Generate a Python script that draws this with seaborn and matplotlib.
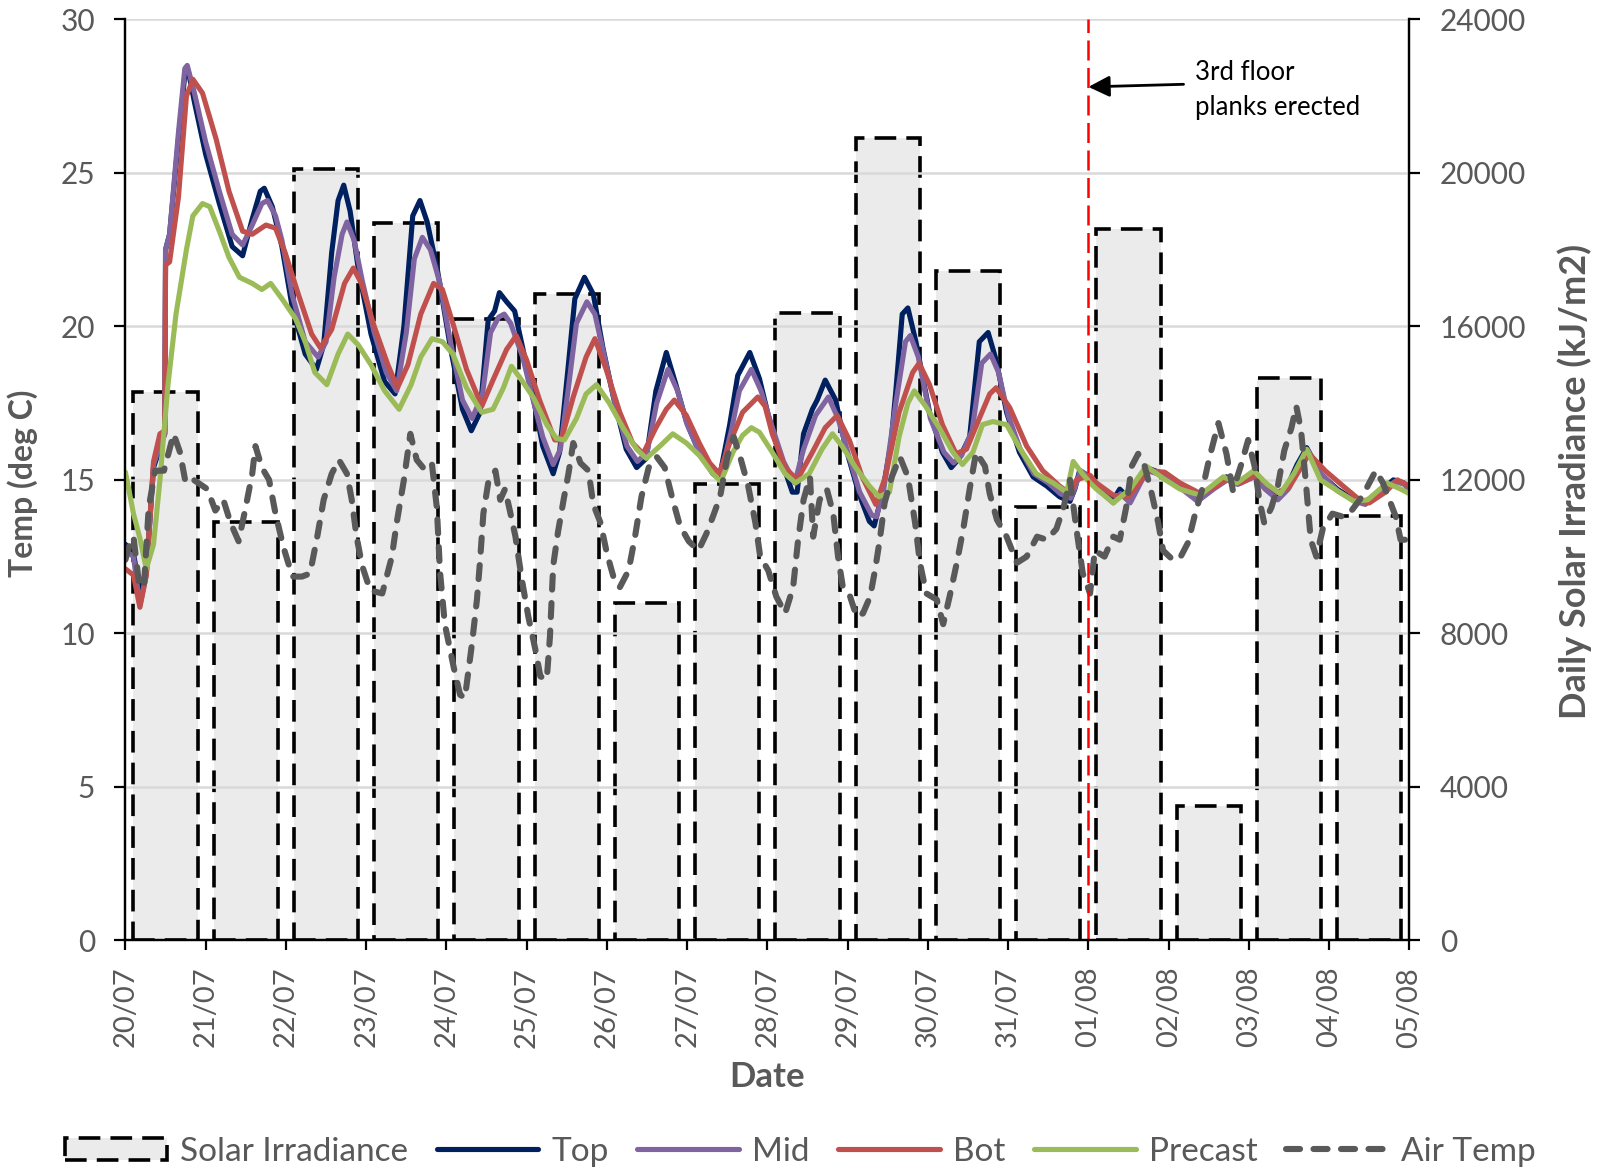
import matplotlib
matplotlib.use("Agg")
import pandas as pd
import matplotlib.pyplot as plt
import seaborn as sns
from matplotlib.patches import Patch
from matplotlib.lines import Line2D

# x axis is in days from 20/07 00:00
date_labels = ["20/07", "21/07", "22/07", "23/07", "24/07", "25/07", "26/07", "27/07",
               "28/07", "29/07", "30/07", "31/07", "01/08", "02/08", "03/08", "04/08", "05/08"]

# daily solar irradiance (kJ/m2), one bar per day starting 20/07
irradiance = [14300, 10900, 20100, 18700, 16200, 16850, 8800, 11900,
              16350, 20900, 17450, 11300, 18550, 3500, 14650, 11050]

# (day, temp)
top = [(0.0, 12.9), (0.1, 12.6), (0.18, 11.4), (0.26, 12.0), (0.35, 15.4), (0.45, 16.2), (0.49, 16.5),
       (0.5, 22.5), (0.55, 23.0), (0.66, 26.1), (0.74, 28.2), (0.78, 28.35), (0.86, 27.3), (1.0, 25.6),
       (1.17, 24.0), (1.33, 22.6), (1.46, 22.3), (1.58, 23.5), (1.68, 24.4), (1.73, 24.5), (1.83, 23.9),
       (1.95, 22.6), (2.08, 20.6), (2.24, 19.1), (2.38, 18.6), (2.47, 19.4), (2.57, 22.4), (2.65, 24.1),
       (2.72, 24.6), (2.8, 23.75), (2.9, 21.9), (3.06, 19.75), (3.23, 18.2), (3.36, 17.8), (3.47, 20.0),
       (3.58, 23.6), (3.67, 24.1), (3.76, 23.4), (3.89, 21.8), (4.05, 19.3), (4.2, 17.3), (4.31, 16.6),
       (4.42, 17.2), (4.52, 20.2), (4.6, 20.5), (4.66, 21.1), (4.75, 20.8), (4.85, 20.5), (4.95, 19.3),
       (5.08, 17.7), (5.2, 16.1), (5.33, 15.2), (5.41, 15.9), (5.51, 18.5), (5.6, 20.9), (5.72, 21.6),
       (5.83, 21.05), (5.95, 19.3), (6.08, 17.7), (6.24, 16.0), (6.37, 15.4), (6.49, 15.7), (6.61, 17.9),
       (6.74, 19.15), (6.86, 18.1), (6.99, 16.9), (7.15, 15.9), (7.32, 15.2), (7.4, 15.05), (7.53, 16.8),
       (7.63, 18.4), (7.78, 19.15), (7.9, 18.3), (8.02, 17.0), (8.14, 15.9), (8.31, 14.6), (8.37, 14.6),
       (8.45, 16.5), (8.56, 17.3), (8.62, 17.6), (8.72, 18.25), (8.85, 17.6), (8.97, 16.1), (9.14, 14.55),
       (9.27, 13.65), (9.33, 13.5), (9.43, 14.55), (9.54, 16.2), (9.6, 17.9), (9.68, 20.4), (9.75, 20.6),
       (9.85, 19.5), (10.02, 17.2), (10.18, 15.9), (10.29, 15.4), (10.39, 15.7), (10.52, 16.4),
       (10.64, 19.5), (10.75, 19.8), (10.85, 18.9), (10.98, 17.2), (11.14, 15.9), (11.31, 15.1),
       (11.48, 14.8), (11.64, 14.45), (11.77, 14.3), (11.83, 14.7), (11.89, 15.3), (12.02, 15.1),
       (12.1, 14.8), (12.31, 14.35), (12.39, 14.7), (12.52, 14.35), (12.72, 15.4), (12.93, 15.2),
       (13.14, 14.8), (13.35, 14.4), (13.56, 14.8), (13.72, 15.1), (13.85, 14.9), (14.06, 15.2),
       (14.18, 14.8), (14.35, 14.4), (14.48, 14.8), (14.6, 15.5), (14.72, 16.05), (14.89, 15.2),
       (15.1, 14.7), (15.31, 14.35), (15.43, 14.25), (15.64, 14.65), (15.8, 15.0), (15.93, 14.9),
       (16.0, 14.65)]

mid = [(0.0, 12.7), (0.1, 12.5), (0.18, 10.9), (0.26, 11.9), (0.35, 15.5), (0.45, 16.3), (0.49, 16.5),
       (0.5, 22.5), (0.55, 23.0), (0.66, 26.3), (0.74, 28.4), (0.77, 28.5), (0.86, 27.6), (1.0, 26.0),
       (1.17, 24.4), (1.33, 23.0), (1.46, 22.65), (1.58, 23.3), (1.7, 24.0), (1.77, 24.1), (1.87, 23.6),
       (1.95, 22.8), (2.08, 21.0), (2.24, 19.5), (2.4, 19.0), (2.5, 19.5), (2.6, 21.6), (2.7, 23.0),
       (2.76, 23.4), (2.85, 22.8), (2.95, 21.5), (3.1, 19.8), (3.25, 18.5), (3.38, 17.9), (3.5, 19.8),
       (3.6, 22.2), (3.7, 22.9), (3.8, 22.5), (3.92, 21.4), (4.05, 19.5), (4.2, 17.6), (4.32, 17.0),
       (4.45, 17.8), (4.55, 19.8), (4.65, 20.3), (4.72, 20.4), (4.8, 20.1), (4.95, 19.0), (5.08, 17.6),
       (5.2, 16.4), (5.33, 15.5), (5.42, 16.0), (5.52, 18.0), (5.62, 20.1), (5.75, 20.8), (5.85, 20.4),
       (5.97, 19.0), (6.1, 17.5), (6.25, 16.1), (6.38, 15.6), (6.5, 15.9), (6.62, 17.5), (6.76, 18.6),
       (6.88, 17.9), (7.0, 16.8), (7.15, 15.9), (7.32, 15.3), (7.42, 15.2), (7.55, 16.6), (7.65, 17.9),
       (7.8, 18.6), (7.92, 17.9), (8.05, 16.8), (8.2, 15.6), (8.34, 14.9), (8.45, 16.0), (8.6, 17.1),
       (8.76, 17.7), (8.88, 17.0), (9.0, 15.9), (9.15, 14.6), (9.3, 13.85), (9.36, 13.8), (9.45, 14.7),
       (9.6, 17.5), (9.72, 19.5), (9.78, 19.7), (9.88, 19.0), (10.03, 17.0), (10.2, 15.9), (10.32, 15.55),
       (10.42, 15.8), (10.55, 16.6), (10.67, 18.8), (10.78, 19.1), (10.88, 18.5), (11.0, 17.1),
       (11.15, 16.0), (11.32, 15.2), (11.5, 14.9), (11.65, 14.55), (11.78, 14.4), (11.84, 14.8),
       (11.9, 15.3), (12.02, 15.1), (12.1, 14.75), (12.31, 14.25), (12.4, 14.55), (12.52, 14.25),
       (12.73, 15.3), (12.93, 15.15), (13.14, 14.75), (13.36, 14.3), (13.56, 14.7), (13.73, 15.0),
       (13.86, 14.85), (14.07, 15.1), (14.2, 14.7), (14.36, 14.35), (14.49, 14.7), (14.62, 15.4),
       (14.74, 15.95), (14.9, 15.2), (15.1, 14.65), (15.32, 14.3), (15.45, 14.2), (15.65, 14.6),
       (15.82, 14.95), (15.94, 14.85), (16.0, 14.65)]

bot = [(0.0, 12.1), (0.1, 11.9), (0.18, 10.85), (0.26, 11.9), (0.35, 15.6), (0.43, 16.5), (0.49, 16.6),
       (0.5, 22.0), (0.55, 22.1), (0.66, 24.2), (0.76, 27.5), (0.84, 28.05), (0.96, 27.6), (1.13, 26.1),
       (1.29, 24.4), (1.46, 23.1), (1.58, 23.0), (1.75, 23.3), (1.87, 23.2), (1.99, 22.4), (2.16, 21.0),
       (2.32, 19.75), (2.43, 19.3), (2.57, 19.9), (2.73, 21.4), (2.84, 21.9), (2.94, 21.4), (3.1, 20.0),
       (3.27, 18.75), (3.39, 18.0), (3.52, 18.75), (3.68, 20.4), (3.84, 21.4), (3.95, 21.2), (4.08, 20.1),
       (4.25, 18.6), (4.44, 17.4), (4.58, 18.25), (4.75, 19.25), (4.87, 19.7), (5.0, 18.9), (5.16, 17.6),
       (5.35, 16.3), (5.43, 16.3), (5.58, 17.7), (5.74, 19.0), (5.85, 19.6), (5.99, 18.6), (6.16, 17.2),
       (6.32, 16.2), (6.45, 15.85), (6.61, 16.7), (6.74, 17.3), (6.84, 17.6), (6.99, 17.1), (7.15, 16.2),
       (7.28, 15.55), (7.4, 15.2), (7.53, 16.2), (7.69, 17.2), (7.88, 17.7), (7.97, 17.4), (8.06, 16.5),
       (8.22, 15.4), (8.37, 15.0), (8.56, 15.9), (8.72, 16.7), (8.87, 17.1), (9.02, 16.3), (9.18, 15.1),
       (9.35, 14.2), (9.47, 15.1), (9.64, 17.2), (9.81, 18.5), (9.89, 18.8), (10.02, 18.1), (10.18, 16.8),
       (10.35, 15.85), (10.48, 16.0), (10.64, 17.0), (10.77, 17.8), (10.85, 18.0), (11.02, 17.35),
       (11.23, 16.1), (11.43, 15.3), (11.64, 14.8), (11.77, 14.55), (11.85, 15.0), (12.02, 15.15),
       (12.1, 14.9), (12.31, 14.5), (12.5, 14.45), (12.75, 15.3), (12.95, 15.25), (13.14, 14.9),
       (13.4, 14.55), (13.6, 14.8), (13.75, 15.05), (13.9, 14.9), (14.08, 15.15), (14.35, 14.6),
       (14.5, 14.75), (14.75, 15.85), (14.95, 15.3), (15.15, 14.85), (15.4, 14.3), (15.5, 14.25),
       (15.7, 14.6), (15.85, 15.0), (16.0, 14.8)]

precast = [(0.0, 15.25), (0.1, 13.9), (0.18, 13.1), (0.26, 12.1), (0.35, 12.9), (0.43, 15.0), (0.53, 18.1),
           (0.63, 20.4), (0.76, 22.5), (0.84, 23.6), (0.96, 24.0), (1.05, 23.9), (1.17, 23.1), (1.29, 22.25),
           (1.42, 21.6), (1.58, 21.4), (1.7, 21.2), (1.81, 21.4), (1.95, 20.9), (2.12, 20.25), (2.24, 19.5),
           (2.36, 18.5), (2.51, 18.1), (2.65, 19.1), (2.77, 19.75), (2.9, 19.4), (3.06, 18.75), (3.23, 17.9),
           (3.41, 17.3), (3.56, 18.1), (3.68, 19.0), (3.82, 19.6), (3.95, 19.5), (4.08, 19.1), (4.25, 18.0),
           (4.44, 17.2), (4.58, 17.3), (4.71, 18.0), (4.81, 18.7), (4.91, 18.35), (5.08, 17.7), (5.25, 16.8),
           (5.37, 16.35), (5.47, 16.3), (5.62, 17.0), (5.74, 17.8), (5.87, 18.1), (6.03, 17.5), (6.2, 16.7),
           (6.37, 16.0), (6.49, 15.7), (6.66, 16.1), (6.82, 16.5), (6.99, 16.2), (7.15, 15.8), (7.32, 15.2),
           (7.42, 14.95), (7.57, 15.9), (7.69, 16.45), (7.8, 16.7), (7.9, 16.55), (8.06, 15.9), (8.22, 15.2),
           (8.35, 14.9), (8.52, 15.2), (8.68, 16.0), (8.81, 16.5), (8.93, 16.1), (9.1, 15.4), (9.27, 14.8),
           (9.39, 14.45), (9.52, 14.6), (9.64, 16.4), (9.75, 17.5), (9.83, 17.9), (9.97, 17.4), (10.14, 16.7),
           (10.31, 15.9), (10.43, 15.5), (10.56, 15.9), (10.68, 16.8), (10.81, 16.9), (10.98, 16.8),
           (11.14, 16.05), (11.35, 15.2), (11.56, 14.9), (11.73, 14.6), (11.81, 15.6), (11.91, 15.25),
           (12.02, 14.9), (12.1, 14.7), (12.31, 14.25), (12.52, 14.7), (12.72, 15.45), (12.93, 15.05),
           (13.14, 14.7), (13.39, 14.5), (13.68, 15.1), (13.85, 14.9), (14.06, 15.3), (14.23, 14.85),
           (14.39, 14.55), (14.56, 15.2), (14.72, 16.0), (14.89, 15.0), (15.1, 14.65), (15.31, 14.3),
           (15.48, 14.35), (15.72, 14.9), (15.89, 14.7), (16.0, 14.55)]

air = [(0.0, 12.4), (0.04, 12.8), (0.1, 13.15), (0.17, 11.6), (0.23, 11.5), (0.29, 14.1), (0.37, 15.3),
       (0.48, 15.3), (0.6, 16.5), (0.68, 15.9), (0.75, 14.9), (0.85, 15.0), (1.02, 14.7), (1.12, 14.0),
       (1.22, 14.35), (1.31, 13.6), (1.41, 13.0), (1.49, 14.0), (1.58, 15.2), (1.62, 16.1), (1.7, 15.4),
       (1.79, 15.0), (1.87, 13.9), (1.97, 12.8), (2.08, 11.85), (2.2, 11.85), (2.3, 11.95), (2.39, 13.15),
       (2.47, 14.35), (2.57, 15.2), (2.66, 15.65), (2.76, 15.2), (2.82, 14.35), (2.88, 13.15), (2.95, 12.2),
       (3.05, 11.4), (3.2, 11.3), (3.32, 12.5), (3.38, 13.6), (3.47, 15.0), (3.55, 16.5), (3.63, 15.65),
       (3.74, 15.3), (3.82, 15.5), (3.88, 14.1), (3.92, 12.0), (3.98, 10.3), (4.09, 8.9), (4.17, 8.0),
       (4.23, 7.9), (4.32, 9.7), (4.38, 11.1), (4.42, 12.4), (4.46, 13.9), (4.52, 14.9), (4.61, 15.3),
       (4.67, 14.35), (4.73, 14.7), (4.79, 14.0), (4.86, 13.15), (4.94, 11.75), (5.02, 10.55), (5.11, 9.45),
       (5.17, 8.6), (5.25, 8.5), (5.29, 9.9), (5.33, 12.2), (5.39, 13.3), (5.46, 14.35), (5.52, 15.2),
       (5.58, 16.2), (5.67, 15.55), (5.77, 15.3), (5.83, 14.2), (5.92, 13.6), (6.0, 12.6), (6.08, 11.85),
       (6.16, 11.5), (6.27, 12.05), (6.35, 13.15), (6.43, 14.45), (6.52, 15.4), (6.62, 15.75), (6.72, 15.4),
       (6.81, 14.45), (6.91, 13.5), (7.02, 13.0), (7.14, 12.7), (7.24, 13.25), (7.32, 13.8), (7.41, 14.45),
       (7.5, 15.75), (7.58, 16.4), (7.66, 15.75), (7.76, 14.8), (7.85, 13.6), (7.91, 12.5), (8.01, 12.05),
       (8.11, 11.2), (8.22, 10.65), (8.32, 11.5), (8.38, 13.0), (8.45, 14.35), (8.53, 15.1), (8.57, 13.15),
       (8.65, 14.35), (8.74, 14.7), (8.82, 13.9), (8.88, 12.5), (8.94, 11.5), (9.03, 11.2), (9.11, 10.55),
       (9.19, 10.65), (9.28, 11.2), (9.34, 12.05), (9.4, 13.05), (9.46, 14.25), (9.55, 15.1), (9.65, 15.75),
       (9.75, 15.1), (9.84, 13.6), (9.9, 12.3), (9.98, 11.3), (10.11, 11.1), (10.19, 10.3), (10.27, 11.2),
       (10.36, 12.3), (10.44, 13.4), (10.52, 14.7), (10.6, 15.9), (10.71, 15.45), (10.77, 14.55),
       (10.86, 13.7), (10.98, 13.15), (11.11, 12.3), (11.23, 12.5), (11.36, 13.15), (11.48, 13.05),
       (11.6, 13.4), (11.69, 14.1), (11.77, 15.0), (11.85, 13.4), (11.93, 11.95), (12.02, 11.3),
       (12.08, 12.7), (12.2, 12.5), (12.31, 13.15), (12.39, 13.05), (12.47, 14.1), (12.54, 15.45),
       (12.62, 15.85), (12.7, 15.45), (12.78, 14.65), (12.87, 13.6), (12.93, 12.7), (13.05, 12.4),
       (13.14, 12.45), (13.24, 12.95), (13.33, 13.9), (13.43, 14.8), (13.51, 15.75), (13.62, 16.85),
       (13.72, 15.85), (13.8, 14.65), (13.91, 15.55), (13.99, 16.3), (14.07, 15.45), (14.13, 14.35),
       (14.19, 13.6), (14.28, 14.1), (14.36, 14.8), (14.44, 15.95), (14.53, 16.7), (14.59, 17.4),
       (14.65, 16.6), (14.71, 14.9), (14.77, 13.05), (14.84, 12.5), (14.92, 13.4), (15.04, 13.9),
       (15.17, 13.8), (15.25, 13.9), (15.38, 14.35), (15.46, 14.7), (15.58, 15.3), (15.67, 14.9),
       (15.75, 14.35), (15.83, 13.8), (15.89, 13.05), (15.96, 13.05), (16.0, 13.35)]

event_day = 12  # 01/08, 3rd floor planks erected

sns.set_style("white")
plt.rcParams["font.family"] = ["Lato", "DejaVu Sans"]

grey_txt = "#595959"
colors = {"Top": "#002060", "Mid": "#8064A2", "Bot": "#C0504D", "Precast": "#9BBB59"}
line_w = 3.7
air_w = 4.4
bar_dash = (0, (6, 2.8))
air_dash = (0, (2.3, 2.2))

fig, ax = plt.subplots(figsize=(15.98, 11.74), dpi=100)
fig.subplots_adjust(left=0.0785, right=0.882, top=0.9835, bottom=0.199)
ax2 = ax.twinx()

# bars on the right-hand axis, drawn underneath the temperature lines
bars = pd.DataFrame({"day": [i + 0.5 for i in range(len(irradiance))], "irr": irradiance})
sns.barplot(data=bars, x="day", y="irr", native_scale=True, width=0.8, ax=ax2,
            color="#EBEBEB", saturation=1, edgecolor="black", linewidth=2.6,
            linestyle=bar_dash, errorbar=None)
ax.set_zorder(ax2.get_zorder() + 1)
ax.patch.set_visible(False)

for name, series in [("Top", top), ("Mid", mid), ("Bot", bot), ("Precast", precast)]:
    df = pd.DataFrame(series, columns=["day", "temp"])
    sns.lineplot(data=df, x="day", y="temp", ax=ax, color=colors[name], linewidth=line_w,
                 estimator=None, sort=False, legend=False)

air_df = pd.DataFrame(air, columns=["day", "temp"])
sns.lineplot(data=air_df, x="day", y="temp", ax=ax, color="#595959", linewidth=air_w,
             linestyle=air_dash, dash_capstyle="round", estimator=None, sort=False, legend=False)

ax.axvline(event_day, color="#FF0000", linewidth=1.8, linestyle=(0, (8, 3)))
ax.annotate("3rd floor\nplanks erected", xy=(event_day, 27.8), xytext=(13.33, 27.7),
            fontsize=18.5, color="black", ha="left", va="center", linespacing=1.5,
            arrowprops=dict(arrowstyle="-|>", color="black", lw=2, mutation_scale=32,
                            shrinkA=6, shrinkB=0, relpos=(0, 0.6)))

ax.set_xlim(0, 16)
ax.set_ylim(0, 30)
ax2.set_ylim(0, 24000)
ax.set_xticks(range(len(date_labels)))
ax.set_xticklabels(date_labels, rotation=90)
ax.set_yticks(range(0, 31, 5))
ax2.set_yticks(range(0, 24001, 4000))
ax.set_xlabel("")
ax.set_ylabel("")
ax2.set_xlabel("")
ax2.set_ylabel("")

ax.yaxis.grid(True, color="#D9D9D9", linewidth=1.8)
ax.set_axisbelow(True)

for a in (ax, ax2):
    a.spines["top"].set_visible(False)
    for s in ("left", "right", "bottom"):
        a.spines[s].set_color("black")
        a.spines[s].set_linewidth(1.6)
ax.tick_params(axis="y", direction="out", length=8, width=1.6, color="black",
               labelcolor=grey_txt, labelsize=21.5, pad=14, left=True)
ax.tick_params(axis="x", direction="out", length=7, width=1.6, color="black",
               labelcolor=grey_txt, labelsize=21, pad=12, bottom=True)
ax2.tick_params(axis="y", direction="out", length=8, width=1.6, color="black",
                labelcolor=grey_txt, labelsize=21.5, pad=14, right=True)

fig.text(22.5 / 1598, 1 - 483 / 1174, "Temp (deg C)", rotation=90, ha="center", va="center",
         fontsize=23, fontweight="bold", color=grey_txt)
fig.text(1575 / 1598, 1 - 481 / 1174, "Daily Solar Irradiance (kJ/m2)", rotation=90,
         ha="center", va="center", fontsize=26, fontweight="bold", color=grey_txt)
fig.text(767 / 1598, 1 - 1077 / 1174, "Date", ha="center", va="center",
         fontsize=25, fontweight="bold", color=grey_txt)

handles = [Patch(facecolor="#EBEBEB", edgecolor="black", linewidth=2.6, linestyle=bar_dash)]
labels = ["Solar Irradiance"]
for name in ["Top", "Mid", "Bot", "Precast"]:
    handles.append(Line2D([], [], color=colors[name], linewidth=line_w))
    labels.append(name)
handles.append(Line2D([], [], color="#595959", linewidth=air_w, linestyle=air_dash,
                      dash_capstyle="round"))
labels.append("Air Temp")
leg = fig.legend(handles, labels, loc="center", bbox_to_anchor=(0.501, 0.019), ncol=6,
                 frameon=False, fontsize=24, handlelength=3.05, handleheight=0.65,
                 handletextpad=0.4, columnspacing=0.85)
for t in leg.get_texts():
    t.set_color(grey_txt)

fig.savefig("out.png", dpi=100)
